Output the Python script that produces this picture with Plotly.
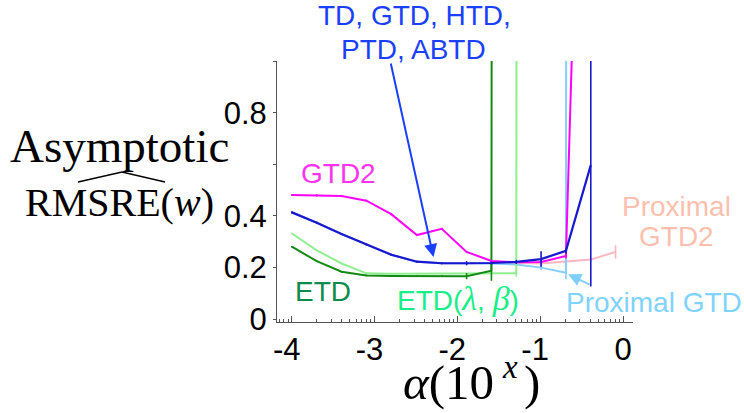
import math
import plotly.graph_objects as go

# step sizes as log10(alpha), alpha = 1e-4 * 2^k
log_alpha = [-4.0, -3.7, -3.4, -3.1, -2.8, -2.49, -2.19, -1.89, -1.59, -1.29, -0.99, -0.69, -0.39, -0.09]

# asymptotic RMSRE per method (last entries of the diverging runs are off scale)
td = [0.414, 0.374, 0.330, 0.289, 0.250, 0.223, 0.217, 0.217, 0.218, 0.222, 0.233, 0.265, 0.597]
td_err = [0.004, 0.004, 0.004, 0.004, 0.004, 0.004, 0.004, 0.008, 0.006, 0.008, 0.030, 0.010, 0.470]

gtd2 = [0.481, 0.480, 0.477, 0.459, 0.407, 0.326, 0.350, 0.261, 0.226, 0.221, 0.222, 0.245, 3.5]
gtd2_err = [0.004, 0.004, 0.004, 0.004, 0.004, 0.004, 0.004, 0.004, 0.004, 0.004, 0.006, 0.010, 0.0]

etd = [0.281, 0.225, 0.184, 0.170, 0.168, 0.167, 0.167, 0.167, 0.188, 100.0]
etd_err = [0.003, 0.003, 0.003, 0.003, 0.003, 0.003, 0.003, 0.012, 0.039, 0.0]

etd_lb = [0.332, 0.267, 0.216, 0.178, 0.176, 0.176, 0.176, 0.176, 0.177, 0.178, 100.0]
etd_lb_err = [0.003, 0.003, 0.003, 0.003, 0.003, 0.003, 0.003, 0.003, 0.004, 0.013, 0.0]

prox_gtd = [0.414, 0.374, 0.330, 0.289, 0.250, 0.223, 0.217, 0.217, 0.216, 0.212, 0.200, 0.180, 100.0]
prox_gtd_err = [0.003, 0.003, 0.003, 0.003, 0.003, 0.003, 0.003, 0.003, 0.003, 0.004, 0.010, 0.025, 0.0]

prox_gtd2 = [0.414, 0.374, 0.330, 0.289, 0.250, 0.223, 0.217, 0.217, 0.217, 0.219, 0.216, 0.223, 0.231, 0.261]
prox_gtd2_err = [0.003, 0.003, 0.003, 0.003, 0.003, 0.003, 0.003, 0.003, 0.003, 0.003, 0.004, 0.006, 0.008, 0.026]

x_tick_vals = [-4, -3, -2, -1, 0]
x_tick_text = ["-4", "-3", "-2", "-1", "0"]
y_tick_vals = [0, 0.2, 0.4, 0.6, 0.8, 1.0]
y_tick_text = ["0", "0.2", "0.4", "", "0.8", ""]

W, H = 744, 413
L, R, T, B = 277, 633, 61, 322
X_RANGE = [-4.18, 0.12]
Y_RANGE = [-0.0105, 1.0]


def px(xp, yp):
    """pixel position -> paper coordinates"""
    return (xp - L) / (R - L), (B - yp) / (B - T)


def series(xs, ys, err, color, width=2.0):
    n = len(ys)
    return go.Scatter(
        x=xs[:n], y=ys, mode="lines",
        line=dict(color=color, width=width),
        error_y=dict(type="data", array=err, symmetric=True, color=color,
                     thickness=1.6, width=0, visible=True),
        hoverinfo="skip", showlegend=False,
    )


fig = go.Figure()
fig.add_trace(series(log_alpha, prox_gtd2, prox_gtd2_err, "#ffb6c1"))
fig.add_trace(series(log_alpha, prox_gtd, prox_gtd_err, "#87cefa"))
fig.add_trace(series(log_alpha, etd_lb, etd_lb_err, "#90ee90"))
fig.add_trace(series(log_alpha, etd, etd_err, "#138a13"))
fig.add_trace(series(log_alpha, gtd2, gtd2_err, "#ff00ff"))
fig.add_trace(series(log_alpha, td, td_err, "#1818d0", 2.2))

# minor ticks at log positions inside each decade
minor_vals = []
for dec in range(-5, 1):
    for d in range(2, 10):
        v = dec + math.log10(d)
        if X_RANGE[0] < v < X_RANGE[1]:
            minor_vals.append(v)

sans = "Liberation Sans, Arial, sans-serif"
serif = "Liberation Serif, Times New Roman, serif"
axis_col = "#555555"

# negative labels keep the digit centred on the tick, the minus hangs left
pad = '<span style="color:white">-</span>'
x_tick_labels = [t + pad if t.startswith("-") else t for t in x_tick_text]

fig.update_xaxes(
    range=X_RANGE, tickmode="array", tickvals=x_tick_vals, ticktext=x_tick_labels,
    ticks="inside", ticklen=6, tickwidth=1, tickcolor=axis_col,
    minor=dict(tickmode="array", tickvals=minor_vals, ticks="inside", ticklen=3,
               tickwidth=1, tickcolor=axis_col),
    showline=True, linecolor=axis_col, linewidth=1, showgrid=False, zeroline=False,
    tickfont=dict(family=sans, size=31, color="black"), automargin=False,
)
fig.update_yaxes(
    range=Y_RANGE, tickmode="array", tickvals=y_tick_vals, ticktext=y_tick_text,
    ticks="outside", ticklen=3, tickwidth=1, tickcolor=axis_col,
    showline=True, linecolor=axis_col, linewidth=1, showgrid=False, zeroline=False,
    tickfont=dict(family=sans, size=31, color="black"), automargin=False,
)

annotations = []


def label(text, xp, yp, color, size=28, family=sans, anchor="center"):
    x, y = px(xp, yp)
    annotations.append(dict(
        text=text, x=x, y=y, xref="paper", yref="paper", showarrow=False,
        xanchor=anchor, yanchor="middle",
        font=dict(family=family, size=size, color=color),
    ))


lam = '<span style="font-family:Liberation Serif;font-size:34px"><i>λ</i></span>'
bet = '<span style="font-family:Liberation Serif;font-size:34px"><i>β</i></span>'

label("TD, GTD, HTD,", 414, 15, "#1a3fff")
label("PTD, ABTD", 413, 49, "#1a3fff")
label("GTD2", 338, 173, "#ff33ee")
label("ETD", 323, 291, "#0e8c4c")
label(f"ETD({lam}, {bet})", 458, 298, "#1aee88")
label("Proximal", 676, 206, "#ffbfae")
label("GTD2", 676, 236, "#ffbfae")
label("Proximal GTD", 654, 302, "#7fd3ff")

label("Asymptotic", 119, 146, "black", 47, serif)
label("RMSRE(<i>w</i>)", 119, 203, "black", 40, serif)

# x-axis title: α(10^x), built from pieces so the exponent sits high and small
label("<i>α</i>(10", 496, 382, "black", 49, serif, anchor="right")
label("<i>x</i>", 510, 367, "black", 33, serif)
label(")", 522, 382, "black", 49, serif, anchor="left")

# arrows pointing at the curves
annotations.append(dict(
    text="", x=-2.29, y=0.241, xref="x", yref="y", showarrow=True,
    ax=-43, ay=-195, axref="pixel", ayref="pixel",
    arrowcolor="#1a3fff", arrowwidth=2, arrowhead=2, arrowsize=1.3,
    standoff=0, startstandoff=0,
))
annotations.append(dict(
    text="", x=-0.663, y=0.174, xref="x", yref="y", showarrow=True,
    ax=23, ay=11, axref="pixel", ayref="pixel",
    arrowcolor="#7fd0ff", arrowwidth=2, arrowhead=2, arrowsize=1.3,
    standoff=0, startstandoff=0,
))

# wide hat over RMSRE
h0 = px(78, 182)
h1 = px(122, 172)
h2 = px(165, 182)
shapes = [dict(
    type="path", xref="paper", yref="paper",
    path=f"M {h0[0]},{h0[1]} L {h1[0]},{h1[1]} L {h2[0]},{h2[1]}",
    line=dict(color="black", width=1.6),
)]

fig.update_layout(
    width=W, height=H,
    margin=dict(l=L, r=W - R, t=T, b=H - B, pad=0),
    paper_bgcolor="white", plot_bgcolor="white",
    showlegend=False, annotations=annotations, shapes=shapes,
)

fig.write_html("out.html")
